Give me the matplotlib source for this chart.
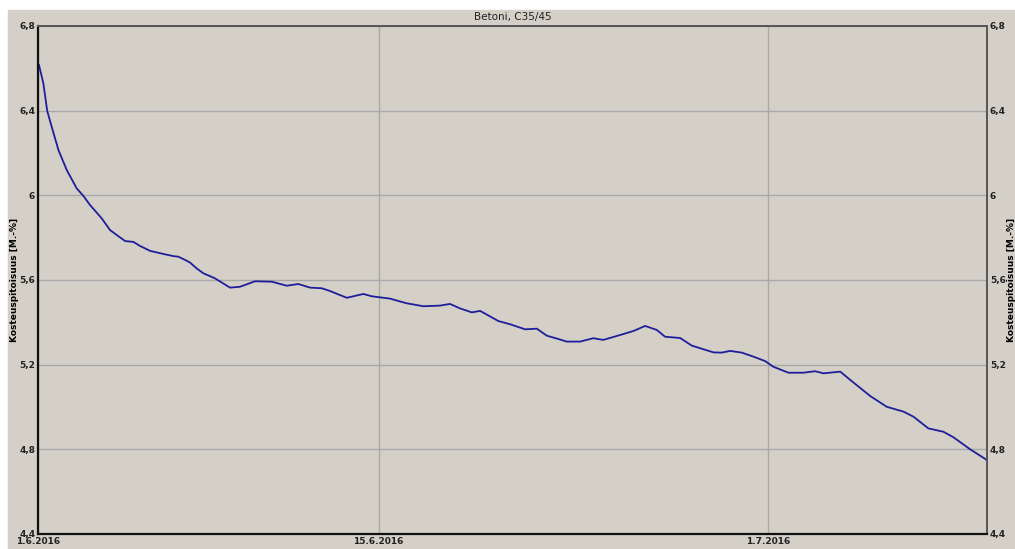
import matplotlib
matplotlib.use("Agg")
import matplotlib.pyplot as plt
from matplotlib.patches import Rectangle

# Data (days after 1.6.2016, moisture in M.-%)
days = [0.04, 0.22, 0.38, 0.64, 0.84, 1.18, 1.59, 1.86, 2.14, 2.62, 2.96, 3.23,
        3.58, 3.92, 4.19, 4.60, 5.15, 5.56, 5.77, 6.11, 6.25, 6.52, 6.79, 7.27,
        7.89, 8.30, 8.92, 9.61, 10.22, 10.70, 11.18, 11.66, 12.00, 12.69, 13.37,
        13.72, 14.47, 15.15, 15.84, 16.52, 16.93, 17.34, 17.83, 18.17, 18.92,
        19.40, 20.02, 20.50, 20.91, 21.39, 21.73, 22.28, 22.82, 23.23, 23.92,
        24.47, 24.95, 25.43, 25.77, 26.39, 26.87, 27.76, 28.10, 28.44, 28.92,
        29.40, 29.88, 30.22, 30.84, 31.45, 31.94, 32.28, 32.97, 33.38, 34.20,
        34.88, 35.57, 35.98, 36.59, 37.21, 37.62, 38.31, 38.99]
moisture = [6.616, 6.529, 6.398, 6.293, 6.214, 6.120, 6.033, 5.998, 5.954, 5.891,
            5.836, 5.813, 5.784, 5.780, 5.761, 5.738, 5.723, 5.713, 5.710, 5.691,
            5.682, 5.655, 5.632, 5.608, 5.564, 5.568, 5.594, 5.592, 5.573, 5.581,
            5.564, 5.561, 5.548, 5.516, 5.534, 5.523, 5.512, 5.490, 5.476, 5.479,
            5.487, 5.466, 5.447, 5.454, 5.406, 5.391, 5.367, 5.370, 5.337, 5.321,
            5.309, 5.309, 5.325, 5.317, 5.340, 5.359, 5.383, 5.364, 5.332, 5.326,
            5.290, 5.258, 5.257, 5.265, 5.257, 5.238, 5.217, 5.190, 5.162, 5.162,
            5.169, 5.159, 5.167, 5.128, 5.052, 5.001, 4.978, 4.954, 4.899, 4.883,
            4.857, 4.800, 4.750]

x_ticks = [0, 14, 30]
x_labels = ["1.6.2016", "15.6.2016", "1.7.2016"]
y_ticks = [4.4, 4.8, 5.2, 5.6, 6.0, 6.4, 6.8]
y_labels = ["4,4", "4,8", "5,2", "5,6", "6", "6,4", "6,8"]

bg = "#d4d0c8"
fig = plt.figure(figsize=(10.15, 5.49), dpi=100, facecolor="white")
fig.patches.append(Rectangle((8 / 1015, 0), 1 - 8 / 1015, 1 - 10 / 549,
                             transform=fig.transFigure, color=bg, zorder=-10))

ax = fig.add_axes([38 / 1015, 1 - 534 / 549, 949 / 1015, 508 / 549])
ax.set_facecolor(bg)
ax.plot(days, moisture, color="#1e1e9a", lw=1.3, solid_joinstyle="round")

ax.set_xlim(0, 39)
ax.set_ylim(4.4, 6.8)
ax.set_xticks(x_ticks)
ax.set_xticklabels(x_labels)
ax.set_yticks(y_ticks)
ax.set_yticklabels(y_labels)
ax.grid(True, color="#a8a8a8", lw=1.0)
ax.set_axisbelow(True)

for lab in ax.get_xticklabels() + ax.get_yticklabels():
    lab.set_fontsize(6.5)
    lab.set_fontweight("bold")
ax.tick_params(axis="both", length=0, colors="#222222")
ax.tick_params(axis="y", pad=2)
ax.tick_params(axis="x", pad=2)

for side in ["left", "bottom"]:
    ax.spines[side].set_color("#111111")
    ax.spines[side].set_linewidth(1.6)
for side in ["top", "right"]:
    ax.spines[side].set_color("#555555")
    ax.spines[side].set_linewidth(1.4)

ax2 = ax.twinx()
ax2.set_ylim(4.4, 6.8)
ax2.set_yticks(y_ticks)
ax2.set_yticklabels(y_labels, fontsize=6.5, fontweight="bold")
ax2.tick_params(axis="y", length=0, pad=2, colors="#222222")
for s in ax2.spines.values():
    s.set_visible(False)

ax.set_ylabel("Kosteuspitoisuus [M.-%]", fontsize=6.5, fontweight="bold")
ax.yaxis.set_label_coords(-0.02, 0.5)
ax2.set_ylabel("Kosteuspitoisuus [M.-%]", fontsize=6.5, fontweight="bold")
ax2.yaxis.set_label_coords(1.021, 0.5)
ax.set_title("Betoni, C35/45", fontsize=7.5, pad=4, color="#222222")

plt.savefig("out.png", dpi=100, facecolor="white")
